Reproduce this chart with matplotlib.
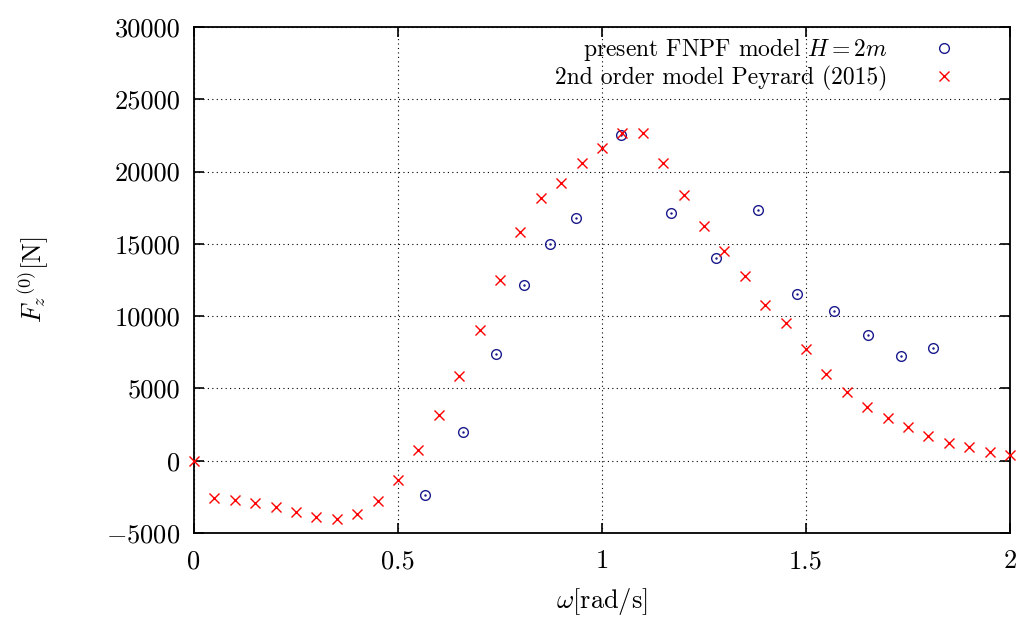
import matplotlib
matplotlib.use('Agg')
import matplotlib.pyplot as plt

plt.rcParams['font.family'] = 'serif'
plt.rcParams['font.serif'] = ['cmr10', 'DejaVu Serif']
plt.rcParams['mathtext.fontset'] = 'cm'
plt.rcParams['axes.formatter.use_mathtext'] = True

# present FNPF model, H = 2m
fnpf_w = [0.565, 0.659, 0.740, 0.809, 0.873, 0.935, 1.046, 1.168, 1.280,
          1.383, 1.479, 1.568, 1.653, 1.733, 1.810]
fnpf_f = [-2400, 2010, 7400, 12170, 15000, 16760, 22550, 17170, 13990,
          17340, 11500, 10330, 8710, 7260, 7770]

# 2nd order model Peyrard (2015)
peyr_w = [0.0, 0.05, 0.1, 0.15, 0.2, 0.25, 0.3, 0.35, 0.4, 0.45, 0.5,
          0.55, 0.6, 0.65, 0.7, 0.75, 0.8, 0.85, 0.9, 0.95, 1.0,
          1.05, 1.1, 1.15, 1.2, 1.25, 1.3, 1.35, 1.4, 1.45, 1.5,
          1.55, 1.6, 1.65, 1.7, 1.75, 1.8, 1.85, 1.9, 1.95, 2.0]
peyr_f = [0, -2560, -2700, -2900, -3180, -3530, -3870, -4010, -3670, -2770, -1310,
          760, 3180, 5880, 9060, 12520, 15840, 18190, 19200, 20610, 21650,
          22680, 22680, 20610, 18400, 16250, 14520, 12790, 10790, 9540, 7750,
          6020, 4770, 3730, 2970, 2350, 1730, 1240, 970, 620, 410]

fig = plt.figure(figsize=(10.19, 6.17), dpi=100)
ax = fig.add_axes([0.1904, 0.1361, 0.8008, 0.8201])

ax.plot(fnpf_w, fnpf_f, linestyle='none', marker='o', markersize=7,
        markerfacecolor='none', markeredgecolor='#1a1a8c', markeredgewidth=1.0,
        label=r'present FNPF model $H = 2m$', clip_on=False, zorder=3)
ax.plot(fnpf_w, fnpf_f, linestyle='none', marker='.', markersize=1.5,
        color='#1a1a8c', clip_on=False, zorder=3)
ax.plot(peyr_w, peyr_f, linestyle='none', marker='x', markersize=6.5,
        markeredgecolor='red', markeredgewidth=1.0,
        label='2nd order model Peyrard (2015)', clip_on=False, zorder=3)

ax.set_xlim(0, 2)
ax.set_ylim(-5000, 30000)
ax.set_xticks([0, 0.5, 1, 1.5, 2])
ax.set_xticklabels(['0', '0.5', '1', '1.5', '2'])
ax.set_yticks(range(-5000, 30001, 5000))
ax.set_yticklabels([r'$-5000$' if v < 0 else str(v) for v in range(-5000, 30001, 5000)])

ax.grid(True, color='black', linestyle=(0, (1, 3)), linewidth=0.8)
ax.tick_params(direction='in', length=7, width=1.2, top=True, right=True,
               labelsize=19, pad=10)
ax.tick_params(axis='x', pad=12)
for s in ax.spines.values():
    s.set_linewidth(1.3)

ax.set_xlabel(r'$\omega$[rad/s]', fontsize=19, labelpad=9)
ax.set_ylabel(r'$F_z{}^{(0)}$[N]', fontsize=19, labelpad=40)

ax.legend(loc='upper right', frameon=False, markerfirst=False, fontsize=17,
          handletextpad=1.4, labelspacing=0.1, borderaxespad=0.0,
          bbox_to_anchor=(0.96, 1.0))

fig.savefig('out.png', dpi=100)
